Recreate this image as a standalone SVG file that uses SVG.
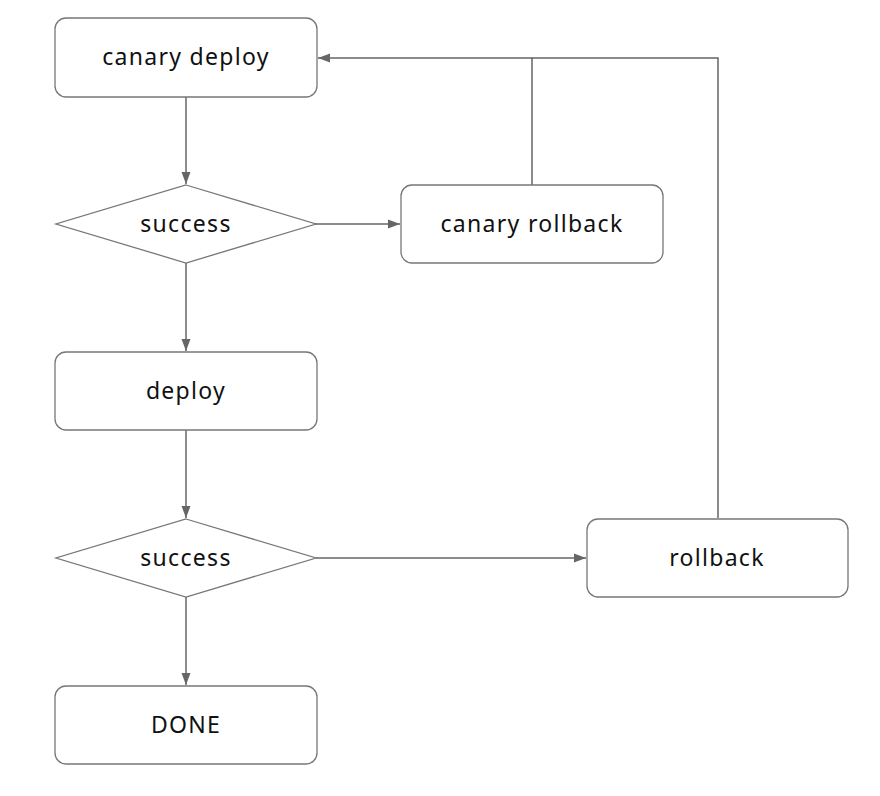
<svg xmlns="http://www.w3.org/2000/svg" width="880" height="796" viewBox="0 0 880 796">
<style>
.box{fill:#fff;stroke:#777;stroke-width:1.3}
.lbl{font-family:"Noto Sans","Open Sans",sans-serif;font-size:23px;letter-spacing:1.3px;fill:#111;text-anchor:middle;dominant-baseline:central}
.edge{fill:none;stroke:#666;stroke-width:1.5}
</style>
<defs>
<marker id="arr" viewBox="0 0 12 10" refX="12" refY="5" markerWidth="12" markerHeight="10" markerUnits="userSpaceOnUse" orient="auto">
<path d="M0,0.5 L12,5 L0,9.5 Z" fill="#666"/>
</marker>
</defs>
<rect width="880" height="796" fill="#fff"/>
<g id="edges">
<path class="edge" d="M186,97 V184" marker-end="url(#arr)"/>
<path class="edge" d="M313,224 H400" marker-end="url(#arr)"/>
<path class="edge" d="M532,185 V58 H318" marker-end="url(#arr)"/>
<path class="edge" d="M186,263 V351" marker-end="url(#arr)"/>
<path class="edge" d="M186,430 V518" marker-end="url(#arr)"/>
<path class="edge" d="M316,558 H586" marker-end="url(#arr)"/>
<path class="edge" d="M718,518 V58 H532"/>
<path class="edge" d="M186,597 V685" marker-end="url(#arr)"/>
</g>
<g id="canary_deploy">
<rect class="box" x="55" y="18" width="262" height="79" rx="11"/>
<text class="lbl" x="186" y="56">canary deploy</text>
</g>
<g id="success1">
<polygon class="box" points="186,185 316,224 186,263 56,224"/>
<text class="lbl" x="186" y="223">success</text>
</g>
<g id="canary_rollback">
<rect class="box" x="401" y="185" width="262" height="78" rx="11"/>
<text class="lbl" x="532" y="223">canary rollback</text>
</g>
<g id="deploy">
<rect class="box" x="55" y="352" width="262" height="78" rx="11"/>
<text class="lbl" x="186" y="390">deploy</text>
</g>
<g id="success2">
<polygon class="box" points="186,519 316,558 186,597 56,558"/>
<text class="lbl" x="186" y="557">success</text>
</g>
<g id="rollback">
<rect class="box" x="587" y="519" width="261" height="78" rx="11"/>
<text class="lbl" x="717" y="557">rollback</text>
</g>
<g id="done">
<rect class="box" x="55" y="686" width="262" height="78" rx="11"/>
<text class="lbl" x="186" y="724">DONE</text>
</g>
</svg>
